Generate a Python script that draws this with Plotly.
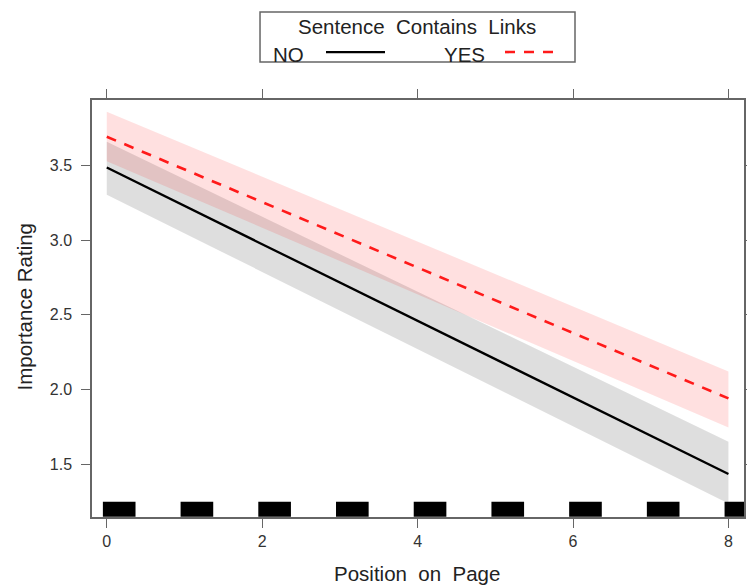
import plotly.graph_objects as go

# ---- data ----
x_pos = [0, 8]
no_fit = [3.487, 1.433]
no_lower = [3.305, 1.235]
no_upper = [3.66, 1.65]
yes_fit = [3.694, 1.94]
yes_lower = [3.53, 1.745]
yes_upper = [3.862, 2.12]
rug_pos = [0, 1, 2, 3, 4, 5, 6, 7, 8]
rug_height = [0.1] * 9
x_ticks = [0, 2, 4, 6, 8]
y_ticks = [1.5, 2.0, 2.5, 3.0, 3.5]
y_tick_labels = ["1.5", "2.0", "2.5", "3.0", "3.5"]

FONT = "Liberation Sans, Arial, sans-serif"
AXC = "#666666"

fig = go.Figure()

# confidence bands
fig.add_trace(go.Scatter(x=x_pos + x_pos[::-1], y=no_upper + no_lower[::-1], mode="lines",
                         fill="toself", fillcolor="rgba(0,0,0,0.13)",
                         line=dict(width=0), hoverinfo="skip", showlegend=False))
fig.add_trace(go.Scatter(x=x_pos + x_pos[::-1], y=yes_upper + yes_lower[::-1], mode="lines",
                         fill="toself", fillcolor="rgba(255,0,0,0.12)",
                         line=dict(width=0), hoverinfo="skip", showlegend=False))
# fitted lines
fig.add_trace(go.Scatter(x=x_pos, y=no_fit, mode="lines",
                         line=dict(color="black", width=2.3), showlegend=False))
fig.add_trace(go.Scatter(x=x_pos, y=yes_fit, mode="lines",
                         line=dict(color="#ff1a1a", width=2.6, dash="10px,9px"),
                         showlegend=False))
# rug
fig.add_trace(go.Bar(x=rug_pos, y=rug_height, base=1.147, offset=-0.05, width=0.42,
                     marker=dict(color="black", line=dict(width=0)), showlegend=False))

# legend (manual box)
x0p, x1p = 0.2577, 0.7408
fig.add_shape(type="rect", xref="paper", yref="paper", x0=x0p, x1=x1p, y0=1.0911, y1=1.2110,
              line=dict(color=AXC, width=1.5), fillcolor="white")
fig.add_annotation(xref="paper", yref="paper", x=0.4992, y=1.176, text="Sentence  Contains  Links",
                   showarrow=False, font=dict(family=FONT, size=20.5, color="#222"),
                   xanchor="center", yanchor="middle")
fig.add_annotation(xref="paper", yref="paper", x=(271 - 92) / 652, y=1.108, text="NO",
                   showarrow=False, font=dict(family=FONT, size=20.5, color="#222"),
                   xanchor="left", yanchor="middle")
fig.add_annotation(xref="paper", yref="paper", x=(442 - 92) / 652, y=1.108, text="YES",
                   showarrow=False, font=dict(family=FONT, size=20.5, color="#222"),
                   xanchor="left", yanchor="middle")
fig.add_shape(type="line", xref="paper", yref="paper", x0=(326 - 92) / 652, x1=(385 - 92) / 652,
              y0=1.115, y1=1.115, line=dict(color="black", width=2.3))
fig.add_shape(type="line", xref="paper", yref="paper", x0=(505 - 92) / 652, x1=(559 - 92) / 652,
              y0=1.115, y1=1.115, line=dict(color="#ff1a1a", width=2.6, dash="10px,9px"))

# axis titles
fig.add_annotation(xref="paper", yref="paper", x=(416.5 - 92) / 652, y=(517 - 573) / 417,
                   text="Position  on  Page", showarrow=False,
                   font=dict(family=FONT, size=20.5, color="#222"), xanchor="center", yanchor="middle")
fig.add_annotation(xref="paper", yref="paper", x=(24 - 92) / 652, y=(517 - 306.5) / 417,
                   text="Importance Rating", textangle=-90, showarrow=False,
                   font=dict(family=FONT, size=20.5, color="#222"), xanchor="center", yanchor="middle")

fig.update_layout(
    width=747, height=586, autosize=False,
    margin=dict(l=92, r=3, t=100, b=69),
    plot_bgcolor="white", paper_bgcolor="white",
    barmode="overlay",
    xaxis=dict(range=[-0.19, 8.2], tickvals=x_ticks, ticks="outside", ticklen=9, tickwidth=1.3,
               tickcolor=AXC, showline=True, linecolor=AXC, linewidth=1.5, mirror="allticks",
               showgrid=False, zeroline=False, automargin=False,
               tickfont=dict(family=FONT, size=16, color="#333")),
    yaxis=dict(range=[1.145, 3.94], tickvals=y_ticks, ticktext=y_tick_labels, ticks="outside",
               ticklen=9, tickwidth=1.3, tickcolor=AXC, showline=True, linecolor=AXC,
               linewidth=1.5, mirror="allticks", showgrid=False, zeroline=False,
               automargin=False, ticklabelstandoff=6,
               tickfont=dict(family=FONT, size=16, color="#333")),
)

fig.write_html("out.html",
               config={"displayModeBar": False, "responsive": False},
               post_script="document.body.style.margin='0';document.body.style.overflow='hidden';")
